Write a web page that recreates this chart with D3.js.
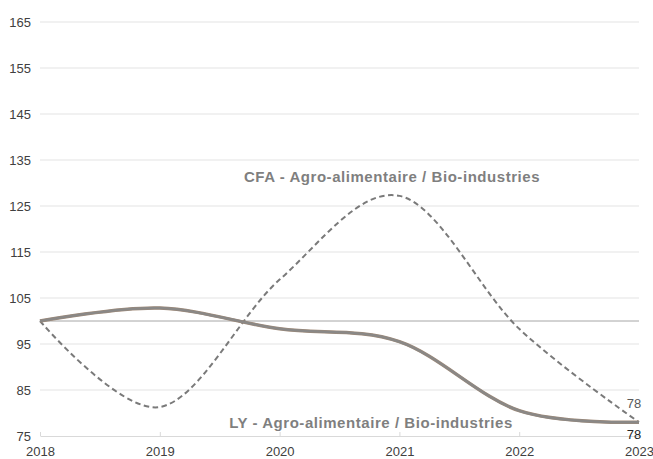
<!DOCTYPE html>
<html lang="fr">
<head>
  <meta charset="UTF-8" />
  <title>Agro-alimentaire / Bio-industries</title>
  <script src="https://d3js.org/d3.v7.min.js"></script>
  <style>
    body { margin: 0; background: #fff; font-family: "Liberation Sans", Arial, sans-serif; }
    .tick-label { font-size: 13px; fill: #404040; }
    .series-label { font-size: 15px; font-weight: bold; fill: #7f7f7f; letter-spacing: 0.55px; }
  </style>
</head>
<body>
  <div id="chart"></div>
  <script>
    const years = [2018, 2019, 2020, 2021, 2022, 2023];
    const cfaValues = [100, 81.3, 109, 127.2, 98.3, 78];
    const lyValues = [100, 102.8, 98.3, 95.5, 80.5, 78];
    const yTicks = [75, 85, 95, 105, 115, 125, 135, 145, 155, 165];
    const baseValue = 100;

    const width = 653, height = 459;
    const margin = { top: 22, right: 14, bottom: 23, left: 40 };

    const svg = d3.select("#chart").append("svg")
      .attr("width", width)
      .attr("height", height);

    const x = d3.scaleLinear()
      .domain([2018, 2023])
      .range([margin.left, width - margin.right]);

    const y = d3.scaleLinear()
      .domain([75, 165])
      .range([height - margin.bottom, margin.top]);

    // gridlines
    svg.append("g")
      .selectAll("line")
      .data(yTicks.slice(1))
      .enter().append("line")
      .attr("x1", x(2018)).attr("x2", x(2023))
      .attr("y1", d => y(d)).attr("y2", d => y(d))
      .attr("stroke", "#e3e3e3")
      .attr("stroke-width", 1);

    // y labels
    svg.append("g")
      .selectAll("text")
      .data(yTicks)
      .enter().append("text")
      .attr("class", "tick-label")
      .attr("x", 31)
      .attr("y", d => y(d) + 4.5)
      .attr("text-anchor", "end")
      .text(d => d);

    // bottom axis
    svg.append("g")
      .attr("transform", `translate(0,${y(75)})`)
      .call(d3.axisBottom(x).tickValues(years).tickFormat(d3.format("d")).tickSizeInner(-4).tickSizeOuter(0).tickPadding(11))
      .call(g => g.select(".domain").attr("stroke", "#d9d9d9"))
      .call(g => g.selectAll(".tick line").attr("stroke", "#d9d9d9"))
      .call(g => g.selectAll("text").attr("class", "tick-label").attr("font-family", null).attr("font-size", null).attr("fill", null));

    // reference line at 100
    svg.append("line")
      .attr("x1", x(2018)).attr("x2", x(2023))
      .attr("y1", y(baseValue)).attr("y2", y(baseValue))
      .attr("stroke", "#a6a6a6")
      .attr("stroke-width", 1);

    const line = d3.line()
      .x((d, i) => x(years[i]))
      .y(d => y(d))
      .curve(d3.curveCardinal);

    svg.append("path")
      .datum(cfaValues)
      .attr("d", line)
      .attr("fill", "none")
      .attr("stroke", "#7a7a7a")
      .attr("stroke-width", 2)
      .attr("stroke-dasharray", "5.5,3.5");

    svg.append("path")
      .datum(lyValues)
      .attr("d", line)
      .attr("fill", "none")
      .attr("stroke", "#a08a78")
      .attr("stroke-width", 3.5);

    svg.append("path")
      .datum(lyValues)
      .attr("d", line)
      .attr("fill", "none")
      .attr("stroke", "#8a8886")
      .attr("stroke-width", 2.5);

    // series labels
    svg.append("text")
      .attr("class", "series-label")
      .attr("x", 392).attr("y", 182)
      .attr("text-anchor", "middle")
      .text("CFA - Agro-alimentaire / Bio-industries");

    svg.append("text")
      .attr("class", "series-label")
      .attr("x", 371).attr("y", 428)
      .attr("text-anchor", "middle")
      .text("LY - Agro-alimentaire / Bio-industries");

    // end value labels
    svg.append("text")
      .attr("x", x(2023) - 5).attr("y", y(cfaValues[5]) - 14)
      .attr("text-anchor", "middle")
      .attr("font-size", "13px")
      .attr("fill", "#595959")
      .text(cfaValues[5]);

    svg.append("text")
      .attr("x", x(2023) - 5).attr("y", y(lyValues[5]) + 17)
      .attr("text-anchor", "middle")
      .attr("font-size", "13px")
      .attr("fill", "#262626")
      .text(lyValues[5]);
  </script>
</body>
</html>
